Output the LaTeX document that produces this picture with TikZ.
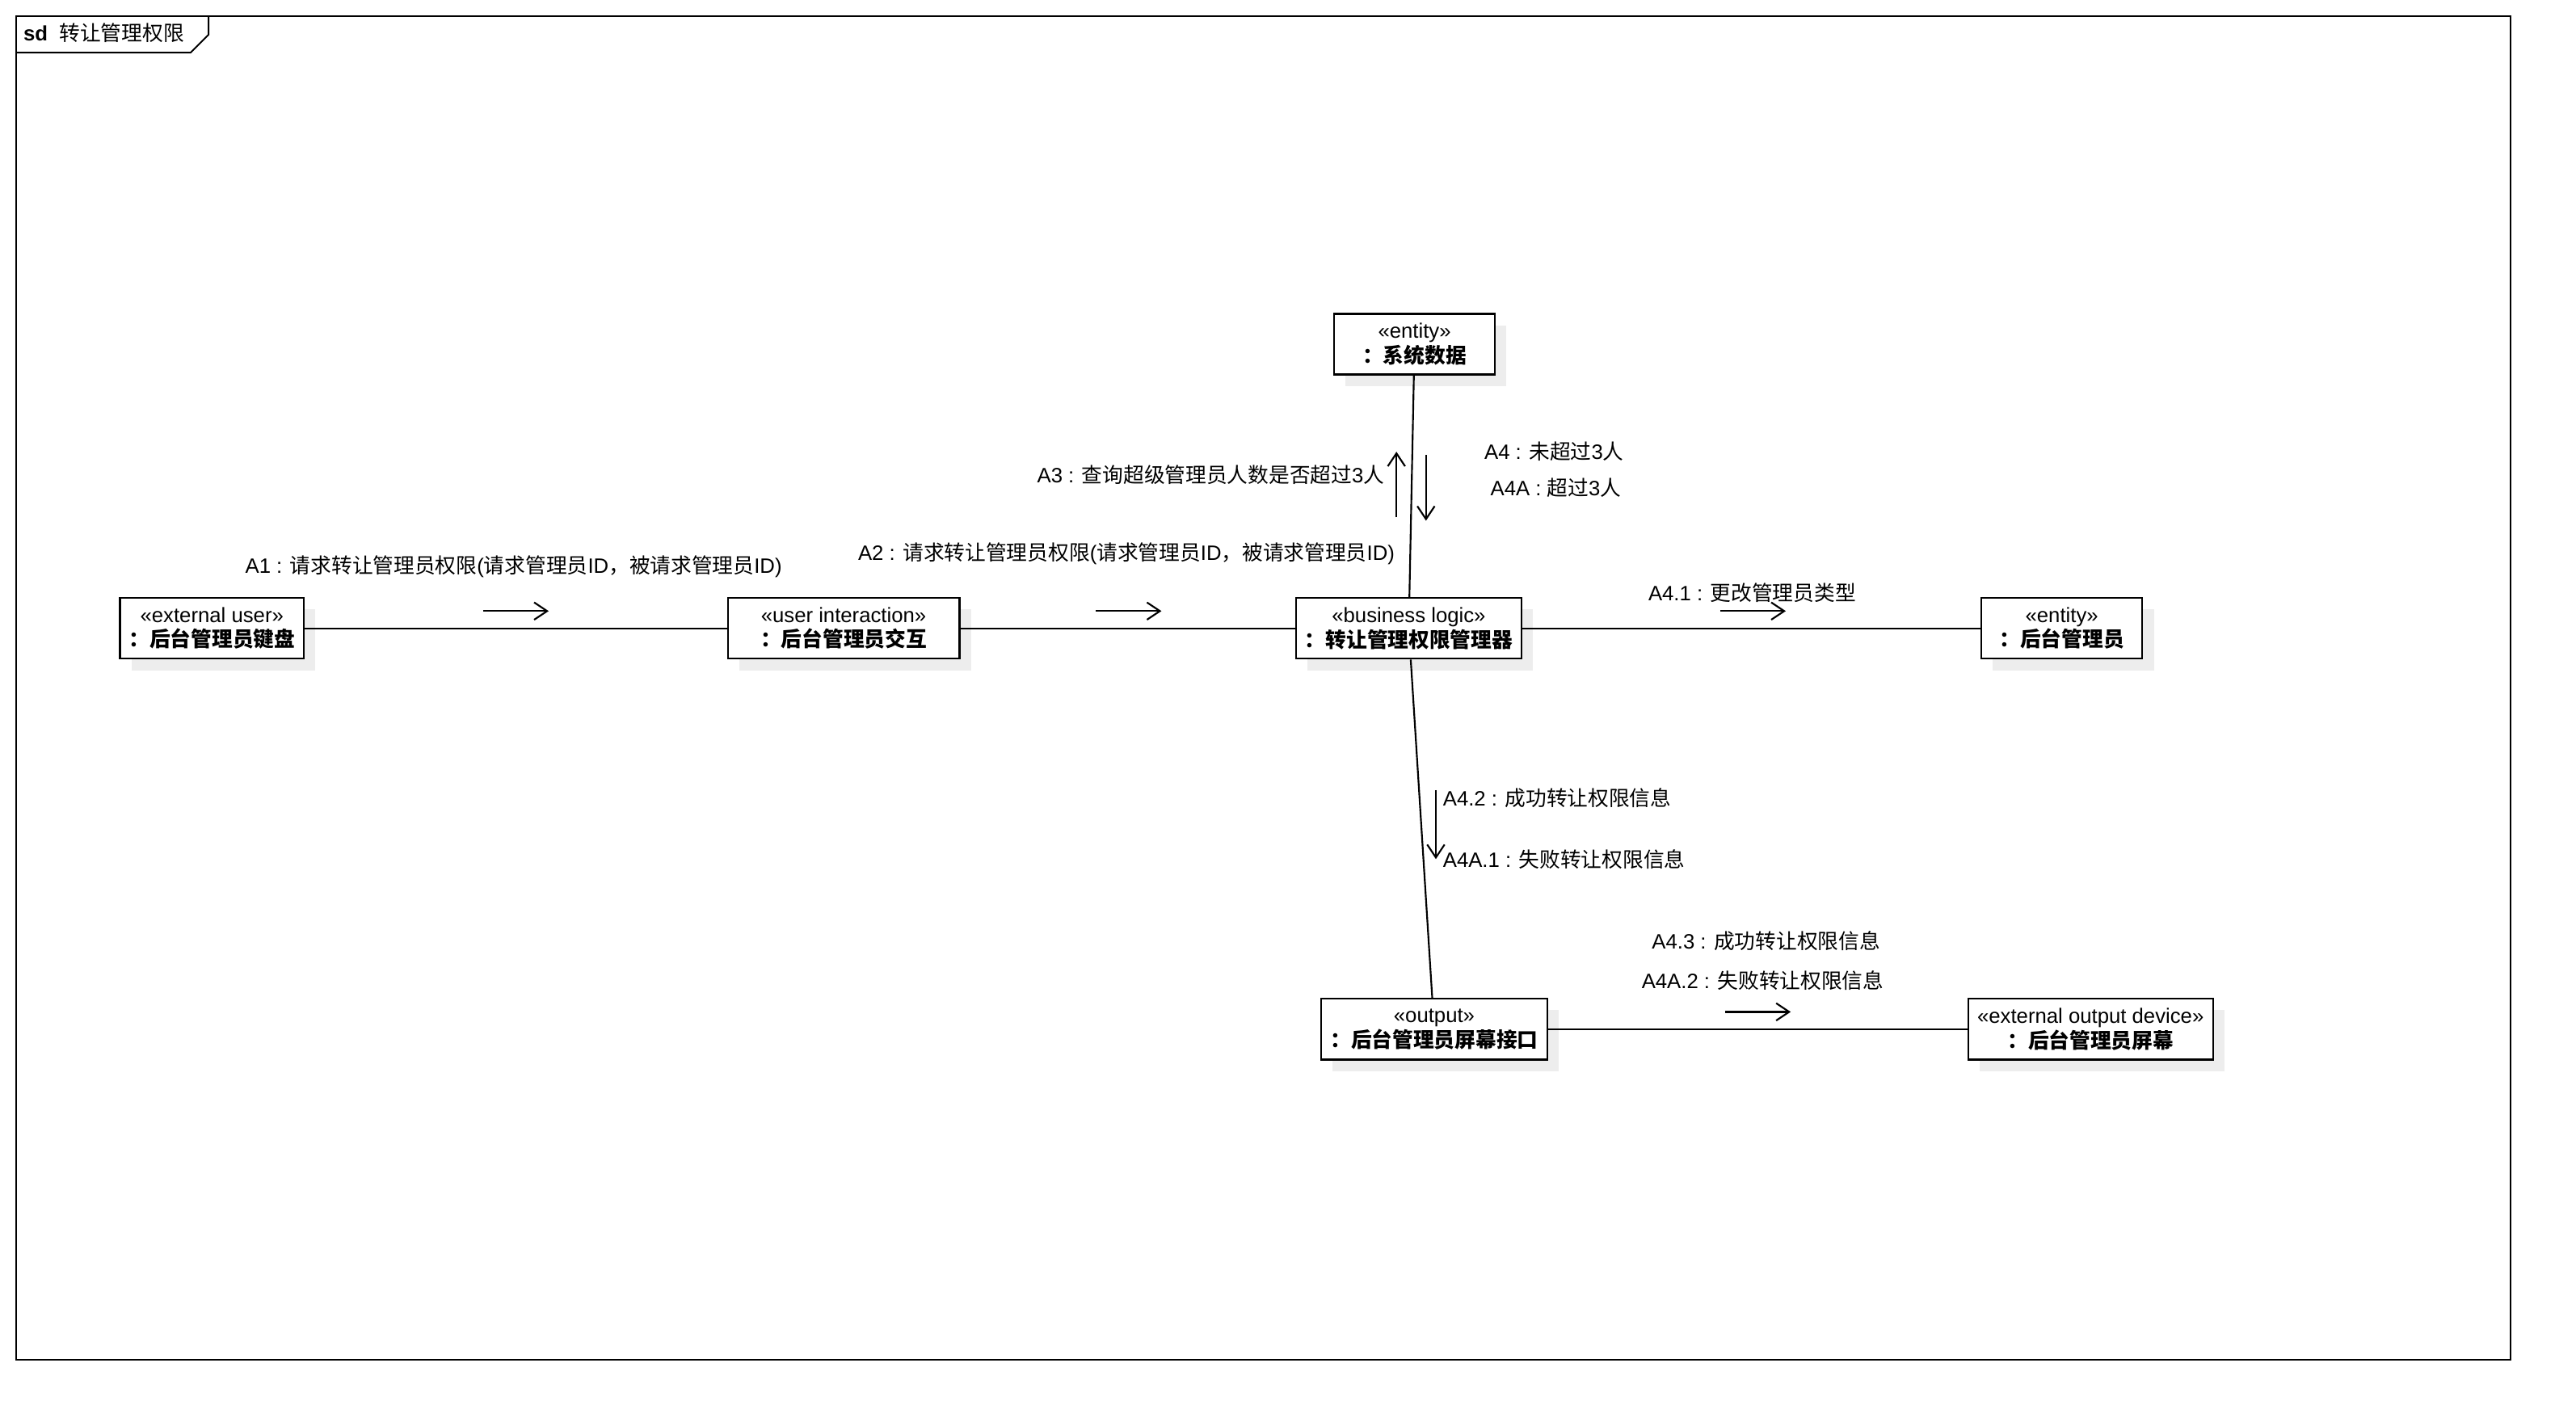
\documentclass[tikz,border=0pt]{standalone}
\usepackage{fontspec}
\setmainfont{Liberation Sans}
\newfontfamily\zhfont{Noto Sans CJK SC}
\newcommand\zh[1]{{\zhfont #1}}
\usetikzlibrary{arrows.meta,shadows}

\begin{document}
\begin{tikzpicture}[x=0.02cm,y=-0.02cm,
  every node/.style={font=\fontsize{7.2}{8.6}\selectfont, inner sep=0pt},
  obj/.style={draw, line width=0.65pt, fill=white, align=center,
    minimum height=0.74cm, minimum width=#1*0.02cm,
    drop shadow={shadow xshift=0.14cm, shadow yshift=-0.14cm, fill=black!7, opacity=1}},
  link/.style={line width=0.6pt},
  msg/.style={line width=0.6pt, -{Straight Barb[length=4.5pt,width=6pt,line width=0.6pt]}},
  lbl/.style={anchor=center},
]
\useasboundingbox (0,0) rectangle (1568,868);

% frame with its name tab
\node[anchor=west] (title) at (14,20) {\textbf{sd}\hspace{4pt}\zh{转让管理权限}};
\draw[line width=0.55pt] (10,10) rectangle (1528,828);
\draw[line width=0.55pt] (10,32) -- (116,32) -- (127,21) -- (127,10);

% objects
\node[obj=112] (kb)  at (129,382.5)  {«external user»\\\textbf{\zhfont ：后台管理员键盘}};
\node[obj=141] (ui)  at (513.5,382.5) {«user interaction»\\\textbf{\zhfont ：后台管理员交互}};
\node[obj=137] (bl)  at (857.5,382.5) {«business logic»\\\textbf{\zhfont ：转让管理权限管理器}};
\node[obj=98]  (adm) at (1255,382.5)  {«entity»\\\textbf{\zhfont ：后台管理员}};
\node[obj=98]  (sys) at (861,209.5)   {«entity»\\\textbf{\zhfont ：系统数据}};
\node[obj=138] (out) at (873,626.5)   {«output»\\\textbf{\zhfont ：后台管理员屏幕接口}};
\node[obj=149] (scr) at (1272.5,626.5) {«external output device»\\\textbf{\zhfont ：后台管理员屏幕}};

% links
\draw[link] (kb) -- (ui);
\draw[link] (ui) -- (bl);
\draw[link] (bl) -- (adm);
\draw[link] (bl) -- (sys);
\draw[link] (bl) -- (out);
\draw[link] (out) -- (scr);

% messages
\node[anchor=west] (m1) at (149,345) {A1 : \zh{请求转让管理员权限}(\zh{请求管理员}ID\zh{，被请求管理员}ID)};
\draw[msg] (294,372) -- (334,372);

\node[anchor=west] (m2) at (522,337) {A2 : \zh{请求转让管理员权限}(\zh{请求管理员}ID\zh{，被请求管理员}ID)};
\draw[msg] (667,372) -- (707,372);

\node[anchor=east] (m3) at (843,289) {A3 : \zh{查询超级管理员人数是否超过}3\zh{人}};
\draw[msg] (850,315) -- (850,275);

\node[lbl] (m4) at (946,275) {A4 : \zh{未超过}3\zh{人}};
\node[lbl] (m4a) at (947,297) {A4A : \zh{超过}3\zh{人}};
\draw[msg] (868,277) -- (868,317);

\node[lbl] (m41) at (1066.5,361) {A4.1 : \zh{更改管理员类型}};
\draw[msg] (1047,372) -- (1087,372);

\node[anchor=west] (m42) at (878,486) {A4.2 : \zh{成功转让权限信息}};
\node[anchor=west] (m4a1) at (878,523) {A4A.1 : \zh{失败转让权限信息}};
\draw[msg] (874,481) -- (874,523);

\node[lbl] (m43) at (1075,573) {A4.3 : \zh{成功转让权限信息}};
\node[lbl] (m4a2) at (1073,597) {A4A.2 : \zh{失败转让权限信息}};
\draw[msg] (1050,616) -- (1090,616);
\end{tikzpicture}
\end{document}
